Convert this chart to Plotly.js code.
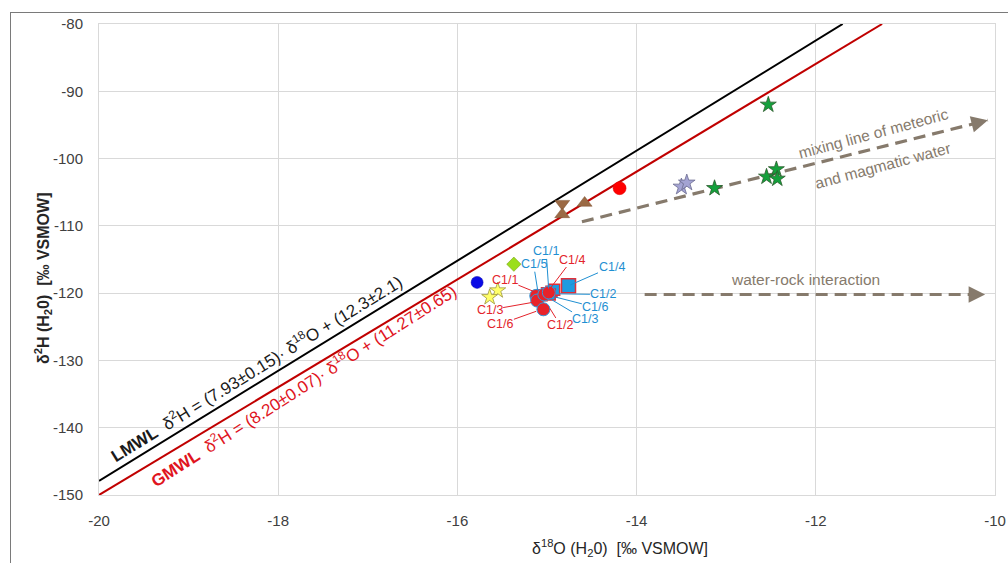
<!DOCTYPE html>
<html><head><meta charset="utf-8">
<script src="https://cdn.plot.ly/plotly-3.0.1.min.js"></script>
<style>
html,body{margin:0;padding:0;background:#fff;}
#wrap{position:relative;width:1008px;height:563px;}
#chart{width:1008px;height:563px;}
#frame{position:absolute;left:10px;top:12px;width:998px;height:551px;border-top:1.5px solid #7a7a7a;border-left:1.5px solid #7a7a7a;pointer-events:none;}
</style></head>
<body>
<div id="wrap"><div id="chart"></div><div id="frame"></div></div>
<script>
// ---- data ----
const lmwlX = [-20, -11.70], lmwlY = [-147.9, -80];
const gmwlX = [-20, -11.26], gmwlY = [-150, -80];
const mixLineX = [-14.61, -10.08], mixLineY = [-109.4, -94.3];
const wrLineX = [-13.91, -10.11], wrLineY = [-120.2, -120.2];

const greenStarX = [-12.53, -12.44, -12.55, -12.43, -13.13];
const greenStarY = [-92.0, -101.6, -102.7, -103.0, -104.4];
const purpleStarX = [-13.50, -13.44];
const purpleStarY = [-104.2, -103.6];
const redDotX = [-14.19], redDotY = [-104.4];
const brownDownX = [-14.83], brownDownY = [-106.7];
const brownUpX = [-14.83, -14.58], brownUpY = [-108.3, -106.6];
const blueDotX = [-15.78], blueDotY = [-118.4];
const diamondX = [-15.37], diamondY = [-115.7];
const yellowStarX = [-15.55, -15.64], yellowStarY = [-119.6, -120.6];
const c1RedX = [-15.12, -15.11, -15.04, -15.03, -14.98];
const c1RedY = [-120.4, -121.1, -122.4, -120.2, -119.9];
const c1BlueX = [-15.06, -15.00, -14.95, -14.92, -14.97];
const c1BlueY = [-120.3, -120.0, -119.8, -119.5, -120.2];
const c1Blue4X = [-14.76], c1Blue4Y = [-118.9];

const xTicks = [-20, -18, -16, -14, -12, -10];
const yTicks = [-150, -140, -130, -120, -110, -100, -90, -80];

const arrowCol = '#867a6c';
const blueTxt = '#1f8fd2', redTxt = '#e3232b';

const traces = [
  {x: lmwlX, y: lmwlY, mode: 'lines', line: {color: '#000000', width: 2}},
  {x: gmwlX, y: gmwlY, mode: 'lines', line: {color: '#c00000', width: 2}},
  {x: mixLineX, y: mixLineY, mode: 'lines', line: {color: arrowCol, width: 3.2, dash: '12px,7px'}},
  {x: wrLineX, y: wrLineY, mode: 'lines', line: {color: arrowCol, width: 3.2, dash: '12px,7px'}},
  {x: greenStarX, y: greenStarY, mode: 'markers', marker: {symbol: 'star', size: 12, color: '#14a03c', line: {color: '#2c5a2c', width: 0.8}}},
  {x: purpleStarX, y: purpleStarY, mode: 'markers', marker: {symbol: 'star', size: 12.5, color: '#a3a3d3', line: {color: '#6c6c90', width: 0.8}}},
  {x: redDotX, y: redDotY, mode: 'markers', marker: {symbol: 'circle', size: 13, color: '#ff0000', line: {color: '#dd0000', width: 0.5}}},
  {x: brownDownX, y: brownDownY, mode: 'markers', marker: {symbol: 'triangle-down', size: 13, color: '#9b6a45', line: {color: '#7a5030', width: 0.5}}},
  {x: brownUpX, y: brownUpY, mode: 'markers', marker: {symbol: 'triangle-up', size: 13, color: '#9b6a45', line: {color: '#7a5030', width: 0.5}}},
  {x: blueDotX, y: blueDotY, mode: 'markers', marker: {symbol: 'circle', size: 12, color: '#0a0ae6', line: {color: '#0000aa', width: 0.5}}},
  {x: diamondX, y: diamondY, mode: 'markers', marker: {symbol: 'diamond', size: 11, color: '#9bde1c', line: {color: '#7aa010', width: 0.6}}},
  {x: yellowStarX, y: yellowStarY, mode: 'markers', marker: {symbol: 'star', size: 12, color: '#ffff6a', line: {color: '#9c9640', width: 0.8}}},
  {x: c1BlueX, y: c1BlueY, mode: 'markers', marker: {symbol: 'square', size: 11, color: '#1e9be0', line: {color: '#e0303a', width: 1.5}}},
  {x: c1RedX, y: c1RedY, mode: 'markers', marker: {symbol: 'circle', size: 13, color: '#e8222a', line: {color: '#3399dd', width: 1}}},
  {x: c1Blue4X, y: c1Blue4Y, mode: 'markers', marker: {symbol: 'square', size: 14, color: '#1e9be0', line: {color: '#e0303a', width: 1.5}}}
];

function lab(t, col, tx, ty, hx, hy) {
  return {text: t, x: hx, y: hy, ax: tx, ay: ty, axref: 'x', ayref: 'y', xref: 'x', yref: 'y',
    showarrow: true, arrowhead: 0, arrowwidth: 1, arrowcolor: col, standoff: 2, borderpad: 0,
    font: {family: 'Liberation Sans, Arial, sans-serif', size: 12.5, color: col}};
}
function head(tx, ty, bx, by) {
  return {text: '', x: tx, y: ty, ax: bx, ay: by, axref: 'x', ayref: 'y', xref: 'x', yref: 'y',
    showarrow: true, arrowhead: 2, arrowsize: 1.1, arrowwidth: 3, arrowcolor: arrowCol, standoff: 0};
}
const gtxt = {family: 'Liberation Sans Narrow, Arial Narrow, Liberation Sans, sans-serif', size: 15.5, color: arrowCol};
const eqFont = {family: 'Liberation Sans, Arial, sans-serif', size: 17};

const annotations = [
  lab('C1/1', blueTxt, -15.01, -113.8, -14.98, -119.6),
  lab('C1/5', blueTxt, -15.15, -115.7, -15.10, -119.9),
  lab('C1/4', blueTxt, -14.28, -116.1, -14.76, -118.9),
  lab('C1/2', blueTxt, -14.37, -120.2, -14.89, -120.1),
  lab('C1/6', blueTxt, -14.46, -122.1, -14.93, -120.5),
  lab('C1/3', blueTxt, -14.58, -123.9, -14.97, -120.8),
  lab('C1/4', redTxt, -14.72, -115.0, -14.97, -119.4),
  lab('C1/1', redTxt, -15.47, -118.0, -15.12, -119.9),
  lab('C1/3', redTxt, -15.64, -122.5, -15.13, -121.3),
  lab('C1/6', redTxt, -15.52, -124.6, -15.10, -122.6),
  lab('C1/2', redTxt, -14.85, -124.8, -14.98, -122.0),
  head(-10.08, -94.3, -10.22, -94.77),
  head(-10.11, -120.2, -10.26, -120.2),
  {text: 'mixing line of meteoric', x: -11.36, y: -96.2, xref: 'x', yref: 'y', showarrow: false, textangle: -15, font: gtxt},
  {text: 'and magmatic water', x: -11.25, y: -101.0, xref: 'x', yref: 'y', showarrow: false, textangle: -15, font: gtxt},
  {text: 'water-rock interaction', x: -12.12, y: -118.0, xref: 'x', yref: 'y', showarrow: false, font: gtxt},
  {text: '<b>LMWL</b>  δ<sup>2</sup>H = (7.93±0.15)· δ<sup>18</sup>O + (12.3±2.1)', x: -18.25, y: -131.1, xref: 'x', yref: 'y',
    showarrow: false, textangle: -31.6, font: Object.assign({color: '#1a1a1a'}, eqFont)},
  {text: '<b>GMWL</b>  δ<sup>2</sup>H = (8.20±0.07)· δ<sup>18</sup>O + (11.27±0.65)', x: -17.72, y: -133.7, xref: 'x', yref: 'y',
    showarrow: false, textangle: -32.6, font: Object.assign({color: '#e0141e'}, eqFont)},
  {text: 'δ<sup>18</sup>O (H<sub>2</sub>0)  [‰ VSMOW]', xref: 'paper', yref: 'paper', x: (620 - 99) / 896, y: -(548 - 495) / 471,
    xanchor: 'center', yanchor: 'middle',
    showarrow: false, font: {family: 'Liberation Sans, Arial, sans-serif', size: 16, color: '#262626'}},
  {text: 'δ<sup>2</sup>H (H<sub>2</sub>0)  [‰ VSMOW]', xref: 'paper', yref: 'paper', x: (43 - 99) / 896, y: (495 - 278) / 471,
    xanchor: 'center', yanchor: 'middle',
    textangle: -90, showarrow: false, font: {family: 'Liberation Sans, Arial, sans-serif', size: 16, weight: 'bold', color: '#262626'}}
];

const axCommon = {
  showgrid: true, gridcolor: '#d9d9d9', gridwidth: 1, zeroline: false,
  showline: true, linecolor: '#d9d9d9', linewidth: 1, mirror: true, ticks: '',
  tickfont: {family: 'Liberation Sans, Arial, sans-serif', size: 15, color: '#404040'}
};

const layout = {
  width: 1008, height: 563,
  margin: {l: 99, r: 13, t: 24, b: 68},
  paper_bgcolor: '#ffffff', plot_bgcolor: '#ffffff',
  showlegend: false,
  xaxis: Object.assign({}, axCommon, {range: [-20, -10], tickvals: xTicks, ticktext: xTicks.map(String), ticklabelstandoff: 12}),
  yaxis: Object.assign({}, axCommon, {range: [-150, -80], tickvals: yTicks, ticktext: yTicks.map(String), ticklabelstandoff: 12}),
  annotations: annotations
};

Plotly.newPlot('chart', traces, layout, {displayModeBar: false, staticPlot: true});
</script>
</body></html>
